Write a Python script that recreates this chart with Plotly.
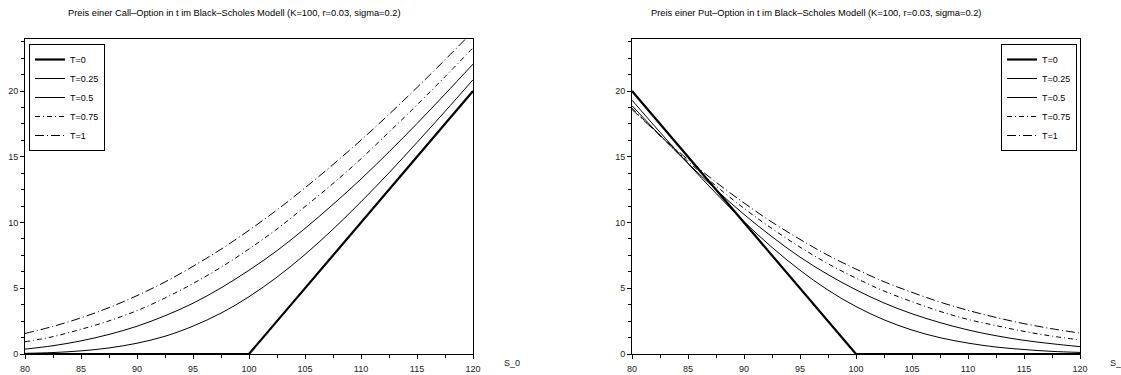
import plotly.graph_objects as go

# Underlying price S_0
S = [80, 82.5, 85, 87.5, 90, 92.5, 95, 97.5, 100, 102.5, 105, 107.5, 110, 112.5, 115, 117.5, 120]

labels = ["T=0", "T=0.25", "T=0.5", "T=0.75", "T=1"]

# Call prices
call_T0 = [0, 0, 0, 0, 0, 0, 0, 0, 0, 2.5, 5, 7.5, 10, 12.5, 15, 17.5, 20]
call_T025 = [0.05, 0.11, 0.24, 0.46, 0.82, 1.35, 2.12, 3.11, 4.36, 5.85, 7.57, 9.49, 11.58, 13.78, 16.09, 18.45, 20.86]
call_T05 = [0.37, 0.63, 1.00, 1.49, 2.11, 2.91, 3.86, 5.03, 6.37, 7.86, 9.55, 11.38, 13.31, 15.38, 17.53, 19.77, 22.05]
call_T075 = [0.93, 1.32, 1.88, 2.52, 3.30, 4.26, 5.36, 6.60, 7.99, 9.51, 11.21, 12.97, 14.85, 16.88, 18.95, 21.09, 23.29]
call_T1 = [1.56, 2.10, 2.75, 3.53, 4.44, 5.48, 6.67, 7.97, 9.41, 10.96, 12.64, 14.41, 16.27, 18.23, 20.27, 22.38, 24.54]

# Put prices
put_T0 = [20, 17.5, 15, 12.5, 10, 7.5, 5, 2.5, 0, 0, 0, 0, 0, 0, 0, 0, 0]
put_T025 = [19.31, 16.87, 14.49, 12.22, 10.07, 8.11, 6.37, 4.86, 3.61, 2.60, 1.82, 1.24, 0.83, 0.53, 0.34, 0.20, 0.12]
put_T05 = [18.89, 16.64, 14.51, 12.50, 10.62, 8.92, 7.37, 6.04, 4.88, 3.88, 3.06, 2.39, 1.83, 1.39, 1.04, 0.78, 0.56]
put_T075 = [18.70, 16.60, 14.65, 12.79, 11.08, 9.54, 8.13, 6.87, 5.77, 4.79, 3.98, 3.24, 2.63, 2.16, 1.72, 1.36, 1.07]
put_T1 = [18.60, 16.64, 14.79, 13.07, 11.49, 10.03, 8.72, 7.51, 6.46, 5.50, 4.69, 3.95, 3.32, 2.78, 2.31, 1.92, 1.59]

x_ticks = [80, 85, 90, 95, 100, 105, 110, 115, 120]
y_ticks = [0, 5, 10, 15, 20]

title_call = "Preis einer Call\u2013Option in t im Black\u2013Scholes Modell (K=100, r=0.03, sigma=0.2)"
title_put = "Preis einer Put\u2013Option in t im Black\u2013Scholes Modell (K=100, r=0.03, sigma=0.2)"
x_label = "S_0"

styles = [
    dict(width=2.2, dash="solid", shape="linear"),
    dict(width=1, dash="solid", shape="spline"),
    dict(width=1, dash="solid", shape="spline"),
    dict(width=1, dash="5px,3px,1px,3px", shape="spline"),
    dict(width=1, dash="9px,3px,1px,3px", shape="spline"),
]

FONT = "Liberation Sans, Arial, sans-serif"

fig = go.Figure()

call_series = [call_T0, call_T025, call_T05, call_T075, call_T1]
put_series = [put_T0, put_T025, put_T05, put_T075, put_T1]

for lab, ys, st in zip(labels, call_series, styles):
    fig.add_trace(go.Scatter(
        x=S, y=ys, mode="lines", name=lab, xaxis="x", yaxis="y", legend="legend",
        line=dict(color="black", width=st["width"], dash=st["dash"], shape=st["shape"], smoothing=1.0),
    ))
for lab, ys, st in zip(labels, put_series, styles):
    fig.add_trace(go.Scatter(
        x=S, y=ys, mode="lines", name=lab, xaxis="x2", yaxis="y2", legend="legend2",
        line=dict(color="black", width=st["width"], dash=st["dash"], shape=st["shape"], smoothing=1.0),
    ))

W, H = 1121, 375
def px_x(p):
    return p / W
def px_y(p):
    return 1 - p / H

axis_common = dict(
    showline=True, linecolor="black", linewidth=1, mirror=True,
    ticks="outside", ticklen=4, tickcolor="black", tickwidth=1,
    showgrid=False, zeroline=False, automargin=False,
    tickfont=dict(family=FONT, size=9, color="#222"),
)

xa = dict(axis_common, range=[80, 120], tickvals=x_ticks, ticklabelstandoff=2,
          minor=dict(dtick=2.5, tick0=80, ticklen=3, ticks="outside", tickcolor="black", showgrid=False))
ya = dict(axis_common, range=[0, 24], tickvals=y_ticks,
          minor=dict(dtick=1.25, tick0=0, ticklen=3, ticks="outside", tickcolor="black", showgrid=False))

fig.update_layout(
    width=W, height=H,
    template="none",
    paper_bgcolor="white", plot_bgcolor="white",
    margin=dict(l=0, r=0, t=0, b=0),
    font=dict(family=FONT, size=9, color="black"),
    xaxis=dict(xa, domain=[px_x(25), px_x(473)], anchor="y"),
    yaxis=dict(ya, domain=[px_y(354), px_y(38.5)], anchor="x"),
    xaxis2=dict(xa, domain=[px_x(632), px_x(1080)], anchor="y2"),
    yaxis2=dict(ya, domain=[px_y(354), px_y(38.5)], anchor="x2"),
    legend=dict(x=px_x(29), y=px_y(44), xanchor="left", yanchor="top",
                bordercolor="black", borderwidth=1, bgcolor="white",
                font=dict(family=FONT, size=9, color="black"), itemwidth=30,
                tracegroupgap=0),
    legend2=dict(x=px_x(1077), y=px_y(44), xanchor="right", yanchor="top",
                 bordercolor="black", borderwidth=1, bgcolor="white",
                 font=dict(family=FONT, size=9, color="black"), itemwidth=30,
                 tracegroupgap=0),
    showlegend=True,
    annotations=[
        dict(text=title_call, x=px_x(234.5), y=px_y(13), xref="paper", yref="paper",
             xanchor="center", yanchor="middle", showarrow=False,
             font=dict(family=FONT, size=9.3, color="black")),
        dict(text=title_put, x=px_x(816), y=px_y(13), xref="paper", yref="paper",
             xanchor="center", yanchor="middle", showarrow=False,
             font=dict(family=FONT, size=9.3, color="black")),
        dict(text=x_label, x=px_x(502), y=px_y(363), xref="paper", yref="paper",
             xanchor="left", yanchor="middle", showarrow=False,
             font=dict(family=FONT, size=9, color="#222")),
        dict(text=x_label, x=px_x(1108), y=px_y(363), xref="paper", yref="paper",
             xanchor="left", yanchor="middle", showarrow=False,
             font=dict(family=FONT, size=9, color="#222")),
    ],
)

fig.write_html(
    "out.html",
    config={"displayModeBar": False},
    post_script="document.body.style.margin='0';document.body.style.padding='0';document.body.style.overflow='hidden';",
)
